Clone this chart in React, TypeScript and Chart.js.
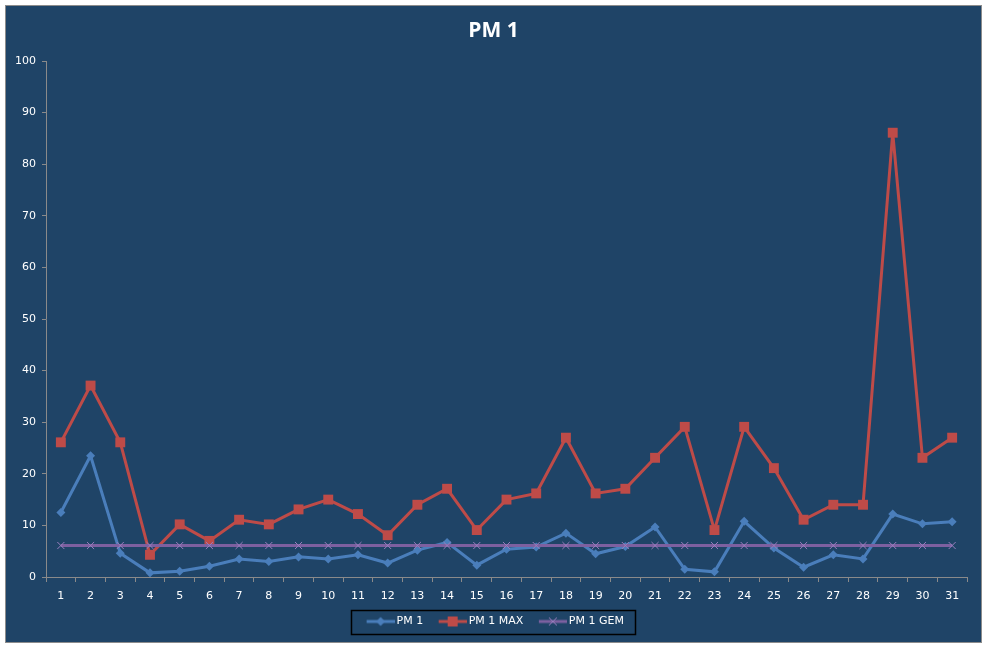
import React, { useEffect, useRef } from "react";
import { Chart, registerables } from "chart.js";

Chart.register(...registerables);

const days = ["1","2","3","4","5","6","7","8","9","10","11","12","13","14","15","16","17","18","19","20","21","22","23","24","25","26","27","28","29","30","31"];
const pm1 = [12.5, 23.5, 4.6, 0.8, 1.1, 2.1, 3.5, 3.0, 3.9, 3.5, 4.3, 2.7, 5.2, 6.7, 2.3, 5.4, 5.8, 8.5, 4.5, 5.9, 9.7, 1.5, 1.0, 10.8, 5.6, 1.9, 4.3, 3.5, 12.2, 10.3, 10.7];
const pm1Max = [26.1, 37.1, 26.1, 4.3, 10.2, 7.0, 11.1, 10.2, 13.1, 15.0, 12.2, 8.1, 14.0, 17.1, 9.1, 15.0, 16.2, 27.0, 16.2, 17.1, 23.1, 29.1, 9.1, 29.1, 21.1, 11.1, 14.0, 14.0, 86.1, 23.1, 27.0];
const pm1Gem = [6.1, 6.1, 6.1, 6.1, 6.1, 6.1, 6.1, 6.1, 6.1, 6.1, 6.1, 6.1, 6.1, 6.1, 6.1, 6.1, 6.1, 6.1, 6.1, 6.1, 6.1, 6.1, 6.1, 6.1, 6.1, 6.1, 6.1, 6.1, 6.1, 6.1, 6.1];
const seriesNames = ["PM 1", "PM 1 MAX", "PM 1 GEM"];
const yTicks = [0, 10, 20, 30, 40, 50, 60, 70, 80, 90, 100];

const BLUE = "#4A7EBB";
const RED = "#BE4B48";
const PURPLE = "#7D60A0";
const PURPLE_X = "#9A7FBF";
const BG = "#1F4467";
const AXIS = "#8A8A8A";
const FONT = "'DejaVu Sans', Tahoma, sans-serif";
const TITLE_FONT = "'Open Sans', 'DejaVu Sans', sans-serif";

// Legend icon: line with the series marker; the transparent left part shifts the
// visible line to the right of the legend box so it sits close to the text.
function makeIcon(color: string, marker: string, markerColor: string) {
  const c = document.createElement("canvas");
  c.width = 35;
  c.height = 12;
  const ctx = c.getContext("2d")!;
  ctx.strokeStyle = color;
  ctx.lineWidth = 3;
  ctx.beginPath();
  ctx.moveTo(7, 6);
  ctx.lineTo(35, 6);
  ctx.stroke();
  const mx = 21;
  ctx.fillStyle = markerColor;
  ctx.strokeStyle = markerColor;
  if (marker === "diamond") {
    ctx.beginPath();
    ctx.moveTo(mx, 1.5);
    ctx.lineTo(mx + 4.5, 6);
    ctx.lineTo(mx, 10.5);
    ctx.lineTo(mx - 4.5, 6);
    ctx.closePath();
    ctx.fill();
  } else if (marker === "square") {
    ctx.fillRect(mx - 5, 1, 10, 10);
  } else {
    ctx.lineWidth = 1;
    ctx.beginPath();
    ctx.moveTo(mx - 4, 2);
    ctx.lineTo(mx + 4, 10);
    ctx.moveTo(mx + 4, 2);
    ctx.lineTo(mx - 4, 10);
    ctx.stroke();
  }
  return c;
}

const bgPlugin = {
  id: "bgPlugin",
  afterLayout(chart: any) {
    // centre title and legend on the whole frame, like the reference
    const mid = chart.width / 2;
    [chart.titleBlock, chart.legend].forEach((b: any) => {
      if (!b) return;
      const d = mid - (b.left + b.right) / 2;
      b.left += d;
      b.right += d;
    });
  },
  beforeDraw(chart: any) {
    const ctx = chart.ctx;
    ctx.save();
    ctx.fillStyle = "#FFFFFF";
    ctx.fillRect(0, 0, chart.width, chart.height);
    ctx.fillStyle = BG;
    ctx.fillRect(5, 5, 976, 637);
    ctx.strokeStyle = "#8C8C8C";
    ctx.lineWidth = 1;
    ctx.strokeRect(5.5, 5.5, 976, 637);
    ctx.restore();
  },
  afterDraw(chart: any) {
    const lg = chart.legend;
    if (!lg || !lg.legendHitBoxes || !lg.legendHitBoxes.length) return;
    const hb = lg.legendHitBoxes;
    let l = Infinity, r = -Infinity, t = Infinity, b = -Infinity;
    hb.forEach((h: any) => {
      l = Math.min(l, h.left);
      r = Math.max(r, h.left + h.width);
      t = Math.min(t, h.top);
      b = Math.max(b, h.top + h.height);
    });
    const ctx = chart.ctx;
    ctx.save();
    ctx.strokeStyle = "#000000";
    ctx.lineWidth = 1.5;
    const cy = (t + b) / 2;
    const left = Math.round(l - 12) + 0.5;
    const right = Math.round(r + 11) + 0.5;
    ctx.strokeRect(left, Math.round(cy - 12) + 0.5, right - left, 24);
    ctx.restore();
  },
};

export default function App() {
  const ref = useRef<HTMLCanvasElement | null>(null);

  useEffect(() => {
    document.body.style.margin = "0";
    const canvas = ref.current;
    if (!canvas) return;
    const icons = [
      makeIcon(BLUE, "diamond", BLUE),
      makeIcon(RED, "square", RED),
      makeIcon(PURPLE, "x", PURPLE_X),
    ];
    const chart = new Chart(canvas, {
      type: "line",
      data: {
        labels: days,
        datasets: [
          {
            label: seriesNames[0],
            data: pm1,
            borderColor: BLUE,
            backgroundColor: BLUE,
            borderWidth: 3,
            pointStyle: "rectRot",
            pointRadius: 4.5,
            pointBorderWidth: 0,
            tension: 0,
            order: 3,
          },
          {
            label: seriesNames[1],
            data: pm1Max,
            borderColor: RED,
            backgroundColor: RED,
            borderWidth: 3,
            pointStyle: "rect",
            pointRadius: 7,
            pointBorderWidth: 0,
            tension: 0,
            order: 2,
          },
          {
            label: seriesNames[2],
            data: pm1Gem,
            borderColor: PURPLE,
            backgroundColor: PURPLE,
            pointBorderColor: PURPLE_X,
            borderWidth: 3,
            pointStyle: "crossRot",
            pointRadius: 5,
            pointBorderWidth: 1,
            tension: 0,
            order: 1,
          },
        ],
      },
      options: {
        responsive: false,
        animation: false,
        events: [],
        layout: { padding: { left: 5, right: 20, top: 0, bottom: 11 } },
        plugins: {
          tooltip: { enabled: false },
          title: {
            display: true,
            text: "PM 1",
            color: "#FFFFFF",
            font: { family: TITLE_FONT, size: 21, weight: "bold" },
            padding: { top: 18.5, bottom: 17.3 },
          },
          legend: {
            display: true,
            position: "bottom",
            labels: {
              color: "#FFFFFF",
              font: { family: FONT, size: 11 },
              usePointStyle: true,
              pointStyleWidth: 28,
              padding: 12,
              generateLabels: (ch: any) =>
                ch.data.datasets.map((ds: any, i: number) => ({
                  text: ds.label,
                  fontColor: "#FFFFFF",
                  pointStyle: icons[i],
                  datasetIndex: i,
                  hidden: false,
                  lineWidth: 0,
                  strokeStyle: "transparent",
                  fillStyle: "transparent",
                })),
            },
          },
        },
        scales: {
          x: {
            type: "category",
            offset: true,
            grid: {
              offset: true,
              drawOnChartArea: false,
              drawTicks: true,
              tickLength: 5,
              color: AXIS,
            },
            border: { color: AXIS, width: 1 },
            ticks: {
              color: "#FFFFFF",
              font: { family: FONT, size: 11 },
              padding: 8,
              maxRotation: 0,
              autoSkip: false,
            },
            afterFit: (s: any) => {
              s.height = 27;
            },
          },
          y: {
            min: 0,
            max: 100,
            afterBuildTicks: (s: any) => {
              s.ticks = yTicks.map((v) => ({ value: v }));
            },
            grid: {
              drawOnChartArea: false,
              drawTicks: true,
              tickLength: 4,
              color: AXIS,
            },
            border: { color: AXIS, width: 1 },
            ticks: {
              color: "#FFFFFF",
              font: { family: FONT, size: 11 },
              padding: 6,
            },
            afterFit: (s: any) => {
              s.width = 41;
            },
          },
        },
      },
      plugins: [bgPlugin],
    });
    return () => chart.destroy();
  }, []);

  return (
    <div style={{ width: 987, height: 648, position: "relative" }}>
      <canvas ref={ref} width={987} height={648} style={{ display: "block" }} />
    </div>
  );
}
